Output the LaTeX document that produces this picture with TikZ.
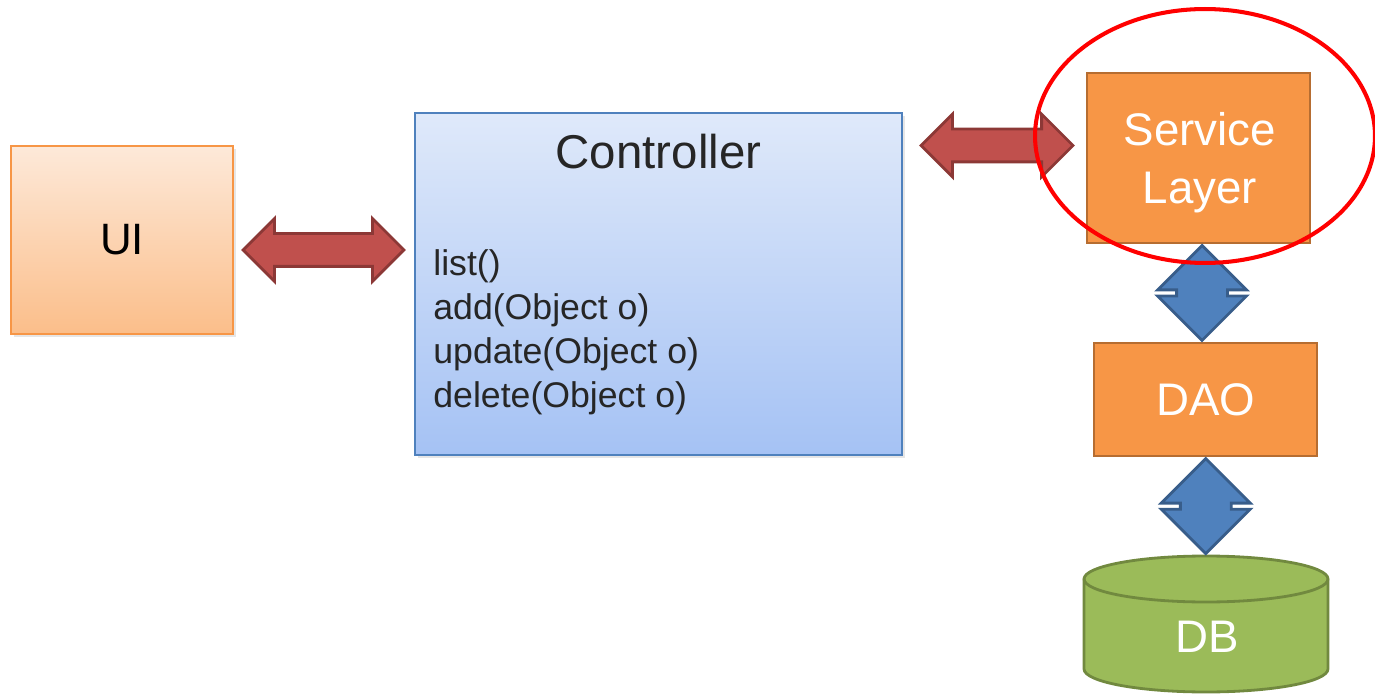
\documentclass[tikz,border=0pt]{standalone}
\usepackage{fontspec}
\setmainfont{Liberation Sans}
\usetikzlibrary{shapes.arrows,calc,shadows}

\definecolor{uitop}{HTML}{FDE9D9}
\definecolor{uibot}{HTML}{FBBE8A}
\definecolor{uiline}{HTML}{F79646}
\definecolor{ctrltop}{HTML}{DFE9FA}
\definecolor{ctrlbot}{HTML}{A5C2F4}
\definecolor{ctrlline}{HTML}{4F81BD}
\definecolor{layerfill}{HTML}{F79646}
\definecolor{layerline}{HTML}{B66D31}
\definecolor{dbfill}{HTML}{9BBB59}
\definecolor{dbline}{HTML}{71893F}
\definecolor{arrowred}{HTML}{C0504D}
\definecolor{arrowredline}{HTML}{8C3836}
\definecolor{arrowblue}{HTML}{4F81BD}
\definecolor{arrowblueline}{HTML}{385D8A}
\definecolor{textgray}{HTML}{262626}

\tikzset{
  boxshadow/.style={drop shadow={opacity=0.2, shadow xshift=1.5pt, shadow yshift=-1.5pt}},
  uibox/.style={draw=uiline, line width=0.8pt, top color=uitop, bottom color=uibot, boxshadow,
    minimum width=4.44cm, minimum height=3.76cm, font=\fontsize{25}{30}\selectfont},
  ctrlbox/.style={draw=ctrlline, line width=0.8pt, top color=ctrltop, bottom color=ctrlbot, boxshadow,
    minimum width=9.74cm, minimum height=6.84cm},
  layerbox/.style={draw=layerline, fill=layerfill, line width=1.6pt, text=white,
    minimum width=4.46cm, align=center, font=\fontsize{26}{33}\selectfont},
  redarrow/.style={double arrow, draw=arrowredline, fill=arrowred, line width=1.6pt,
    inner xsep=0pt, inner ysep=0.3cm, double arrow head extend=0.3cm},
  bluearrow/.style={double arrow, draw=arrowblueline, fill=arrowblue, line width=1.6pt,
    inner xsep=0pt, inner ysep=0.48cm, minimum height=1.9cm,
    double arrow head extend=0.38cm, rotate=90}
}

\begin{document}
\begin{tikzpicture}[x=0.02cm, y=-0.02cm]
  \useasboundingbox (0,0) rectangle (1375,695);

  % boxes
  \node[uibox] (ui) at (122,240) {UI};
  \node[ctrlbox] (ctrl) at (658.5,284) {};
  \node[text=textgray, font=\fontsize{27}{32}\selectfont, anchor=north] (title) at ($(ctrl.north)+(0,16)$) {Controller};
  \node[text=textgray, anchor=west, align=left, inner sep=0pt, font=\fontsize{20.3}{25}\selectfont] (methods) at (433,332)
    {list()\\add(Object o)\\update(Object o)\\delete(Object o)};
  \node[layerbox, minimum height=3.4cm] (service) at (1198.5,158) {};
  \node[text=white, align=center, font=\fontsize{26}{33}\selectfont] (servicetext) at (1200,163) {Service\\Layer};
  \node[layerbox, minimum height=2.26cm] (dao) at (1205.5,399.5) {DAO};

  % database
  \coordinate (dbtop) at (1206,579);
  \coordinate (dbbot) at (1206,669);
  \draw[draw=dbline, fill=dbfill, line width=1.6pt]
    ($(dbtop)+(-122,0)$) -- ($(dbbot)+(-122,0)$) arc[start angle=180, end angle=360, x radius=2.44cm, y radius=0.46cm]
    -- ($(dbtop)+(122,0)$) arc[start angle=0, end angle=180, x radius=2.44cm, y radius=0.46cm] -- cycle;
  \draw[draw=dbline, line width=1.6pt] ($(dbtop)+(-122,0)$) arc[start angle=180, end angle=360, x radius=2.44cm, y radius=0.46cm];
  \node[text=white, font=\fontsize{26}{30}\selectfont] (db) at (1207,637) {DB};

  % arrows
  \node[redarrow, minimum height=3.22cm] (a1) at (323.5,250) {};
  \node[redarrow, minimum height=3.04cm] (a2) at (997,145.5) {};
  \node[bluearrow] (a3) at ($(service.south)!0.5!(dao.north)$) {};
  \node[bluearrow] (a4) at ($(dao.south)!0.5!(1206,555)$) {};

  % highlight
  \draw[red, line width=2.3pt] (1205,136) ellipse [x radius=3.4cm, y radius=2.54cm];
\end{tikzpicture}
\end{document}
